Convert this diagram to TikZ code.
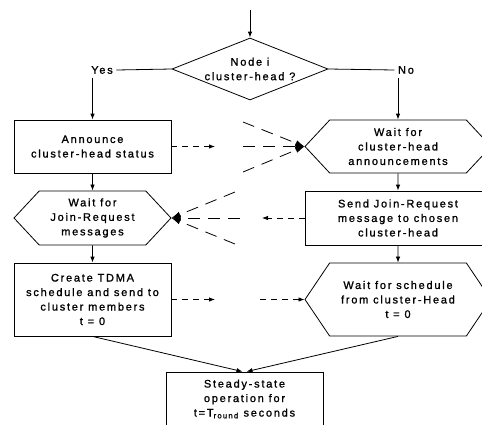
\documentclass[tikz,border=0pt]{standalone}
\usepackage{fontspec}
\setmainfont{Liberation Sans}[LetterSpace=16, FakeBold=1.2]
\usetikzlibrary{arrows.meta, positioning, shapes.geometric, shapes.symbols}

\begin{document}
\begin{tikzpicture}[x=1pt, y=-1pt,
    font=\fontsize{11}{14.5}\selectfont,
    line width=0.8pt,
    stepbox/.style={draw, rectangle, align=center, inner sep=2pt},
    waitbox/.style={draw, signal, signal to=west and east, align=center, inner sep=2pt},
    decision/.style={draw, diamond, inner sep=0pt},
    flow/.style={-{Latex[length=6pt, width=4.5pt]}},
    msg/.style={flow, dash pattern=on 6pt off 5pt},
    bcast/.style={-{Latex[length=9pt, width=6pt]}, dash pattern=on 12pt off 8pt}]

    % Define dimensions
    \def\colL{92.5}
    \def\colR{398}
    \def\boxw{157}
    \def\rboxw{186}

    \useasboundingbox (0,0) rectangle (482,424);
    \clip (0,0) rectangle (482,424);

    % Decision
    \coordinate (start) at (250,10);
    \node[decision, minimum width=156, minimum height=62] (check) at (250,69) {};
    \node[align=center] (checktext) at (check) {Node i\\cluster-head ?};
    \node (yes) at (102,70) {Yes};
    \node (no) at (406,70) {No};

    % Cluster-head side (left)
    \node[stepbox, minimum width=\boxw, minimum height=53] (announce) at (\colL,146.5) {Announce\\cluster-head status};
    \node[waitbox, signal pointer angle=94, minimum width=\boxw, minimum height=54] (waitjr) at (\colL,218) {Wait for\\Join-Request\\messages};
    \node[stepbox, minimum width=\boxw, minimum height=73] (create) at (\colL,299.5) {Create TDMA\\schedule and send to\\cluster members\\t = 0};

    % Member side (right)
    \node[waitbox, signal pointer angle=94, minimum width=\rboxw, minimum height=53] (waitch) at (\colR,146.5) {Wait for\\cluster-head\\announcements};
    \node[stepbox, minimum width=\rboxw, minimum height=54] (sendjr) at (\colR,218) {Send Join-Request\\message to chosen\\cluster-head};
    \node[waitbox, signal pointer angle=112, minimum width=\rboxw, minimum height=73] (waitsched) at (\colR,299.5) {Wait for schedule\\from cluster-Head\\t = 0};

    % Steady state
    \node[stepbox, minimum width=\boxw, minimum height=54] (steady) at (244.5,399) {Steady-state\\operation for\\t=T\textsubscript{round} seconds};

    % Flow
    \draw[flow] (start) -- (check.north);
    \draw (check.west) -- (yes.east);
    \draw (check.east) -- (no.west);
    \draw[flow] (yes.south -| announce.north) -- (announce.north);
    \draw[flow] (no.south -| waitch.north) -- (waitch.north);
    \draw[flow] (announce) -- (waitjr);
    \draw[flow] (waitjr) -- (create);
    \draw[flow] (waitch) -- (sendjr);
    \draw[flow] (sendjr) -- (waitsched);
    \draw[flow] (create.south) -- ([xshift=-2]steady.north);
    \draw[flow] (waitsched.south) -- ([xshift=2]steady.north);

    % Messages
    \coordinate (a1) at (215,146.5);
    \draw[msg] (announce.east) -- (a1);
    \foreach \y [count=\i] in {122,146.5,172} {
        \coordinate (b\i) at (243,\y);
        \draw[bcast] (b\i) -- (waitch.west);
    }

    \coordinate (s1) at (262,218);
    \draw[msg] (sendjr.west) -- (s1);
    \foreach \x/\y [count=\i] in {235/192,240/218,235/244} {
        \coordinate (j\i) at (\x,\y);
        \draw[bcast] (j\i) -- (waitjr.east);
    }

    \coordinate (c1) at (215,299.5);
    \draw[msg] (create.east) -- (c1);
    \coordinate (c2) at (260,299.5);
    \draw[msg] (c2) -- (waitsched.west);

\end{tikzpicture}
\end{document}
